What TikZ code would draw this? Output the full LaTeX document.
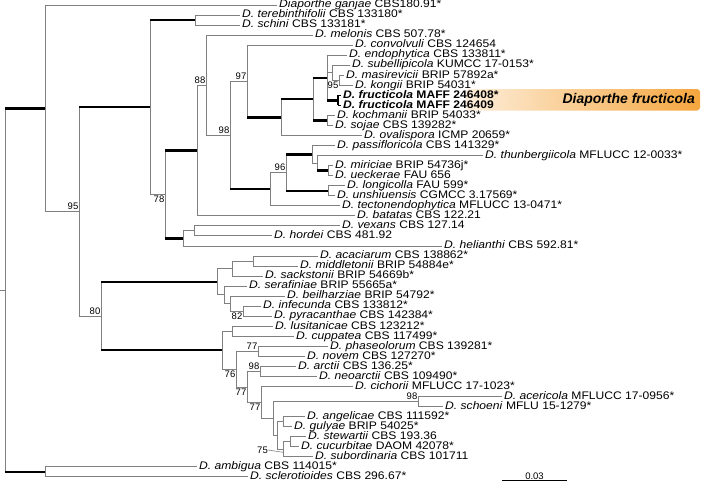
\documentclass[tikz,border=0pt]{standalone}
\usepackage{fontspec}
\usetikzlibrary{calc}
\setmainfont{Liberation Sans}
\newfontfamily\leaffont{Liberation Sans}[FakeStretch=1.1]
\definecolor{brgray}{HTML}{808080}
\definecolor{hlorange}{HTML}{F5A63E}
\definecolor{hlpeach}{HTML}{FDEEDB}
\newcommand\tedge[3]{\draw[#3] (#1 |- #2) -- (#2);}
\newcommand\tvert[3]{\draw[br] (#1 |- #2) -- (#1 |- #3);}
\begin{document}
\begin{tikzpicture}[x=1pt,y=-1pt,
  br/.style={draw=brgray, line width=0.9pt},
  bb/.style={draw=black, line width=2.4pt},
  bm/.style={draw=black, line width=1.6pt},
  lab/.style={anchor=west, inner xsep=2pt, inner ysep=0pt, text height=8pt, text depth=2.5pt, font=\leaffont\fontsize{11}{12}\selectfont},
  bsa/.style={anchor=south east, inner sep=0pt, xshift=-0.5pt, yshift=1.5pt, font=\fontsize{9.5}{10}\selectfont},
  bsb/.style={anchor=north east, inner sep=0pt, xshift=-0.5pt, yshift=-1.5pt, font=\fontsize{9.5}{10}\selectfont}]
\useasboundingbox (0,0) rectangle (702,482);
% highlight
\shade[left color=hlpeach, right color=hlorange, rounded corners=3pt] (466,89) rectangle (700,110.5);
\node[anchor=east, inner sep=0pt, font=\bfseries\itshape\fontsize{14}{16}\selectfont] (hl) at (695,100) {Diaporthe fructicola};
% leaves
\node[lab] (l1) at (277,5.00) {\textit{Diaporthe ganjae} CBS180.91*};
\node[lab] (l2) at (240,15.04) {\textit{D. terebinthifolii} CBS 133180*};
\node[lab] (l3) at (240,25.08) {\textit{D. schini} CBS 133181*};
\node[lab] (l4) at (313,35.12) {\textit{D. melonis} CBS 507.78*};
\node[lab] (l5) at (353,45.16) {\textit{D. convolvuli} CBS 124654};
\node[lab] (l6) at (347,55.2) {\textit{D. endophytica} CBS 133811*};
\node[lab] (l7) at (350,65.24) {\textit{D. subellipicola} KUMCC 17-0153*};
\node[lab] (l8) at (344,75.28) {\textit{D. masirevicii} BRIP 57892a*};
\node[lab] (l9) at (353,85.32) {\textit{D. kongii} BRIP 54031*};
\node[lab] (l10) at (341,95.36) {\bfseries\textit{D. fructicola} MAFF 246408*};
\node[lab] (l11) at (341,105.4) {\bfseries\textit{D. fructicola} MAFF 246409};
\node[lab] (l12) at (335,115.44) {\textit{D. kochmanii} BRIP 54033*};
\node[lab] (l13) at (333,125.48) {\textit{D. sojae} CBS 139282*};
\node[lab] (l14) at (362,135.52) {\textit{D. ovalispora} ICMP 20659*};
\node[lab] (l15) at (335,145.56) {\textit{D. passifloricola} CBS 141329*};
\node[lab] (l16) at (483,155.6) {\textit{D. thunbergiicola} MFLUCC 12-0033*};
\node[lab] (l17) at (333,165.64) {\textit{D. miriciae} BRIP 54736j*};
\node[lab] (l18) at (333,175.68) {\textit{D. ueckerae} FAU 656};
\node[lab] (l19) at (345,185.72) {\textit{D. longicolla} FAU 599*};
\node[lab] (l20) at (335,195.76) {\textit{D. unshiuensis} CGMCC 3.17569*};
\node[lab] (l21) at (340,205.8) {\textit{D. tectonendophytica} MFLUCC 13-0471*};
\node[lab] (l22) at (355,215.84) {\textit{D. batatas} CBS 122.21};
\node[lab] (l23) at (340,225.88) {\textit{D. vexans} CBS 127.14};
\node[lab] (l24) at (272,235.92) {\textit{D. hordei} CBS 481.92};
\node[lab] (l25) at (442,245.96) {\textit{D. helianthi} CBS 592.81*};
\node[lab] (l26) at (318,256.0) {\textit{D. acaciarum} CBS 138862*};
\node[lab] (l27) at (298,266.04) {\textit{D. middletonii} BRIP 54884e*};
\node[lab] (l28) at (263,276.08) {\textit{D. sackstonii} BRIP 54669b*};
\node[lab] (l29) at (247,286.12) {\textit{D. serafiniae} BRIP 55665a*};
\node[lab] (l30) at (285,296.16) {\textit{D. beilharziae} BRIP 54792*};
\node[lab] (l31) at (261,306.2) {\textit{D. infecunda} CBS 133812*};
\node[lab] (l32) at (272,316.24) {\textit{D. pyracanthae} CBS 142384*};
\node[lab] (l33) at (273,326.28) {\textit{D. lusitanicae} CBS 123212*};
\node[lab] (l34) at (294,336.32) {\textit{D. cuppatea} CBS 117499*};
\node[lab] (l35) at (328,346.36) {\textit{D. phaseolorum} CBS 139281*};
\node[lab] (l36) at (305,356.4) {\textit{D. novem} CBS 127270*};
\node[lab] (l37) at (296,366.44) {\textit{D. arctii} CBS 136.25*};
\node[lab] (l38) at (317,376.48) {\textit{D. neoarctii} CBS 109490*};
\node[lab] (l39) at (353,386.52) {\textit{D. cichorii} MFLUCC 17-1023*};
\node[lab] (l40) at (502,396.56) {\textit{D. acericola} MFLUCC 17-0956*};
\node[lab] (l41) at (443,406.6) {\textit{D. schoeni} MFLU 15-1279*};
\node[lab] (l42) at (305,416.64) {\textit{D. angelicae} CBS 111592*};
\node[lab] (l43) at (292,426.68) {\textit{D. gulyae} BRIP 54025*};
\node[lab] (l44) at (306,436.72) {\textit{D. stewartii} CBS 193.36};
\node[lab] (l45) at (299,446.76) {\textit{D. cucurbitae} DAOM 42078*};
\node[lab] (l46) at (313,456.8) {\textit{D. subordinaria} CBS 101711};
\node[lab] (l47) at (197,466.84) {\textit{D. ambigua} CBS 114015*};
\node[lab] (l48) at (248,476.88) {\textit{D. sclerotioides} CBS 296.67*};
% internal nodes
\coordinate (rt) at (5,290.09);
\coordinate (rs) at (0,290.09);
\coordinate (nA) at (45,108.31);
\coordinate (nB) at (45,471.86);
\coordinate (nC) at (79,211.62);
\coordinate (nD) at (150,107.26);
\coordinate (nE) at (101,315.99);
\coordinate (nTS) at (195,20.06);
\coordinate (nH) at (165,194.47);
\coordinate (nI) at (197,150.5);
\coordinate (nJ) at (183,238.43);
\coordinate (nAB) at (194,230.9);
\coordinate (nK) at (206,85.16);
\coordinate (nL) at (230,135.2);
\coordinate (nM) at (247,81.24);
\coordinate (nN) at (270,189.17);
\coordinate (nP) at (281,117.32);
\coordinate (nQ) at (313,99.13);
\coordinate (nR) at (327,77.79);
\coordinate (nS) at (327,120.46);
\coordinate (nT) at (332,72.77);
\coordinate (nU) at (339,80.3);
\coordinate (nV) at (338,100.38);
\coordinate (nW) at (286,172.54);
\coordinate (nX) at (312,154.35);
\coordinate (nY) at (328,190.74);
\coordinate (nZ) at (317,163.13);
\coordinate (nAA) at (328,170.66);
\coordinate (nF) at (217,281.73);
\coordinate (nAC) at (232,268.55);
\coordinate (nAE) at (253,261.02);
\coordinate (nAD) at (224,294.9);
\coordinate (nAF) at (230,303.69);
\coordinate (nAG) at (243,311.22);
\coordinate (nG) at (222,350.24);
\coordinate (nAH) at (232,331.3);
\coordinate (nAI) at (236,369.19);
\coordinate (nAK) at (258,351.38);
\coordinate (nAL) at (247,386.99);
\coordinate (nAM) at (260,371.46);
\coordinate (nAN) at (261,402.52);
\coordinate (nAO) at (273,418.52);
\coordinate (nAP) at (418,401.58);
\coordinate (nAQ) at (277,435.47);
\coordinate (nAR) at (283,421.66);
\coordinate (nAS) at (283,449.27);
\coordinate (nAT) at (290,441.74);
% verticals
\tvert{rt}{nA}{nB}
\tvert{nA}{l1.west}{nC}
\tvert{nB}{l47.west}{l48.west}
\tvert{nC}{nD}{nE}
\tvert{nD}{nTS}{nH}
\tvert{nTS}{l2.west}{l3.west}
\tvert{nH}{nI}{nJ}
\tvert{nI}{nK}{l22.west}
\tvert{nJ}{nAB}{l25.west}
\tvert{nAB}{l23.west}{l24.west}
\tvert{nK}{l4.west}{nL}
\tvert{nL}{nM}{nN}
\tvert{nM}{l5.west}{nP}
\tvert{nP}{nQ}{l14.west}
\tvert{nQ}{nR}{nS}
\tvert{nR}{l6.west}{nV}
\tvert{nT}{l7.west}{nU}
\tvert{nU}{l8.west}{l9.west}
\draw[bm] (nV |- l10.west) -- (nV |- l11.west);
\tvert{nS}{l12.west}{l13.west}
\tvert{nN}{nW}{l21.west}
\tvert{nW}{nX}{nY}
\tvert{nX}{l15.west}{nZ}
\tvert{nZ}{l16.west}{nAA}
\tvert{nAA}{l17.west}{l18.west}
\tvert{nY}{l19.west}{l20.west}
\tvert{nE}{nF}{nG}
\tvert{nF}{nAC}{nAD}
\tvert{nAC}{nAE}{l28.west}
\tvert{nAE}{l26.west}{l27.west}
\tvert{nAD}{l29.west}{nAF}
\tvert{nAF}{l30.west}{nAG}
\tvert{nAG}{l31.west}{l32.west}
\tvert{nG}{nAH}{nAI}
\tvert{nAH}{l33.west}{l34.west}
\tvert{nAI}{nAK}{nAL}
\tvert{nAK}{l35.west}{l36.west}
\tvert{nAL}{nAM}{nAN}
\tvert{nAM}{l37.west}{l38.west}
\tvert{nAN}{l39.west}{nAO}
\tvert{nAO}{nAP}{nAQ}
\tvert{nAP}{l40.west}{l41.west}
\tvert{nAQ}{nAR}{nAS}
\tvert{nAR}{l42.west}{l43.west}
\tvert{nAS}{nAT}{l46.west}
\tvert{nAT}{l44.west}{l45.west}
% horizontals
\draw[br] (rs) -- (rt);
\tedge{rt}{nA}{bb} \tedge{rt}{nB}{bb}
\tedge{nA}{l1.west}{br} \tedge{nA}{nC}{br}
\tedge{nB}{l47.west}{br} \tedge{nB}{l48.west}{br}
\tedge{nC}{nD}{bb} \tedge{nC}{nE}{br}
\tedge{nD}{nTS}{bb} \tedge{nD}{nH}{br}
\tedge{nTS}{l2.west}{br} \tedge{nTS}{l3.west}{br}
\tedge{nH}{nI}{bb} \tedge{nH}{nJ}{bb}
\tedge{nI}{nK}{br} \tedge{nI}{l22.west}{br}
\tedge{nJ}{nAB}{br} \tedge{nJ}{l25.west}{br}
\tedge{nAB}{l23.west}{br} \tedge{nAB}{l24.west}{br}
\tedge{nK}{l4.west}{br} \tedge{nK}{nL}{br}
\tedge{nL}{nM}{br} \tedge{nL}{nN}{bb}
\tedge{nM}{l5.west}{br} \tedge{nM}{nP}{bb}
\tedge{nP}{nQ}{bb} \tedge{nP}{l14.west}{br}
\tedge{nQ}{nR}{bb} \tedge{nQ}{nS}{bb}
\tedge{nR}{l6.west}{br} \tedge{nR}{nT}{br} \tedge{nR}{nV}{bb}
\tedge{nT}{l7.west}{br} \tedge{nT}{nU}{br}
\tedge{nU}{l8.west}{br} \tedge{nU}{l9.west}{br}
\tedge{nV}{l10.west}{bm} \tedge{nV}{l11.west}{bm}
\tedge{nS}{l12.west}{br} \tedge{nS}{l13.west}{br}
\tedge{nN}{nW}{br} \tedge{nN}{l21.west}{br}
\tedge{nW}{nX}{bb} \tedge{nW}{nY}{bb}
\tedge{nX}{l15.west}{br} \tedge{nX}{nZ}{br}
\tedge{nZ}{l16.west}{br} \tedge{nZ}{nAA}{bb}
\tedge{nAA}{l17.west}{br} \tedge{nAA}{l18.west}{br}
\tedge{nY}{l19.west}{br} \tedge{nY}{l20.west}{br}
\tedge{nE}{nF}{bb} \tedge{nE}{nG}{bb}
\tedge{nF}{nAC}{br} \tedge{nF}{nAD}{br}
\tedge{nAC}{nAE}{br} \tedge{nAC}{l28.west}{br}
\tedge{nAE}{l26.west}{br} \tedge{nAE}{l27.west}{br}
\tedge{nAD}{l29.west}{br} \tedge{nAD}{nAF}{br}
\tedge{nAF}{l30.west}{br} \tedge{nAF}{nAG}{br}
\tedge{nAG}{l31.west}{br} \tedge{nAG}{l32.west}{br}
\tedge{nG}{nAH}{br} \tedge{nG}{nAI}{br}
\tedge{nAH}{l33.west}{br} \tedge{nAH}{l34.west}{br}
\tedge{nAI}{nAK}{br} \tedge{nAI}{nAL}{br}
\tedge{nAK}{l35.west}{br} \tedge{nAK}{l36.west}{br}
\tedge{nAL}{nAM}{br} \tedge{nAL}{nAN}{br}
\tedge{nAM}{l37.west}{br} \tedge{nAM}{l38.west}{br}
\tedge{nAN}{l39.west}{br} \tedge{nAN}{nAO}{br}
\tedge{nAO}{nAP}{br} \tedge{nAO}{nAQ}{br}
\tedge{nAP}{l40.west}{br} \tedge{nAP}{l41.west}{br}
\tedge{nAQ}{nAR}{br} \tedge{nAQ}{nAS}{br}
\tedge{nAR}{l42.west}{br} \tedge{nAR}{l43.west}{br}
\tedge{nAS}{nAT}{br} \tedge{nAS}{l46.west}{br}
\tedge{nAT}{l44.west}{br} \tedge{nAT}{l45.west}{br}
% bootstrap values
\node[bsa] (b1) at (nC) {95};
\node[bsa] (b2) at (nE) {80};
\node[bsa] (b3) at (nK) {88};
\node[bsb] (b4) at (nH) {78};
\node[bsa] (b5) at (nM) {97};
\node[bsa] (b6) at (nL) {98};
\node[bsb] (b7) at (nU) {95};
\node[bsa] (b8) at (nW) {96};
\node[bsb] (b9) at (nAG) {82};
\node[bsa] (b10) at (nAK) {77};
\node[bsa] (b11) at (nAM) {98};
\node[bsb] (b12) at (nAI) {76};
\node[bsb] (b13) at (nAL) {77};
\node[bsb] (b14) at (nAN) {77};
\node[bsa] (b15) at (nAP) {98};
\node[anchor=east, inner sep=0pt, font=\fontsize{9.5}{10}\selectfont] (b16) at (268,450) {75};
\draw[br, line width=0.6pt] (b16.east) -- ([yshift=-3pt]nAS);
% scale bar
\coordinate (sb1) at (502,480);
\coordinate (sb2) at (567,480);
\draw[draw=black, line width=0.8pt] (sb1) -- (sb2);
\node[anchor=south, inner sep=0.5pt, font=\fontsize{9.5}{10}\selectfont] (sbl) at ($(sb1)!0.5!(sb2)$) {0.03};
\end{tikzpicture}
\end{document}
